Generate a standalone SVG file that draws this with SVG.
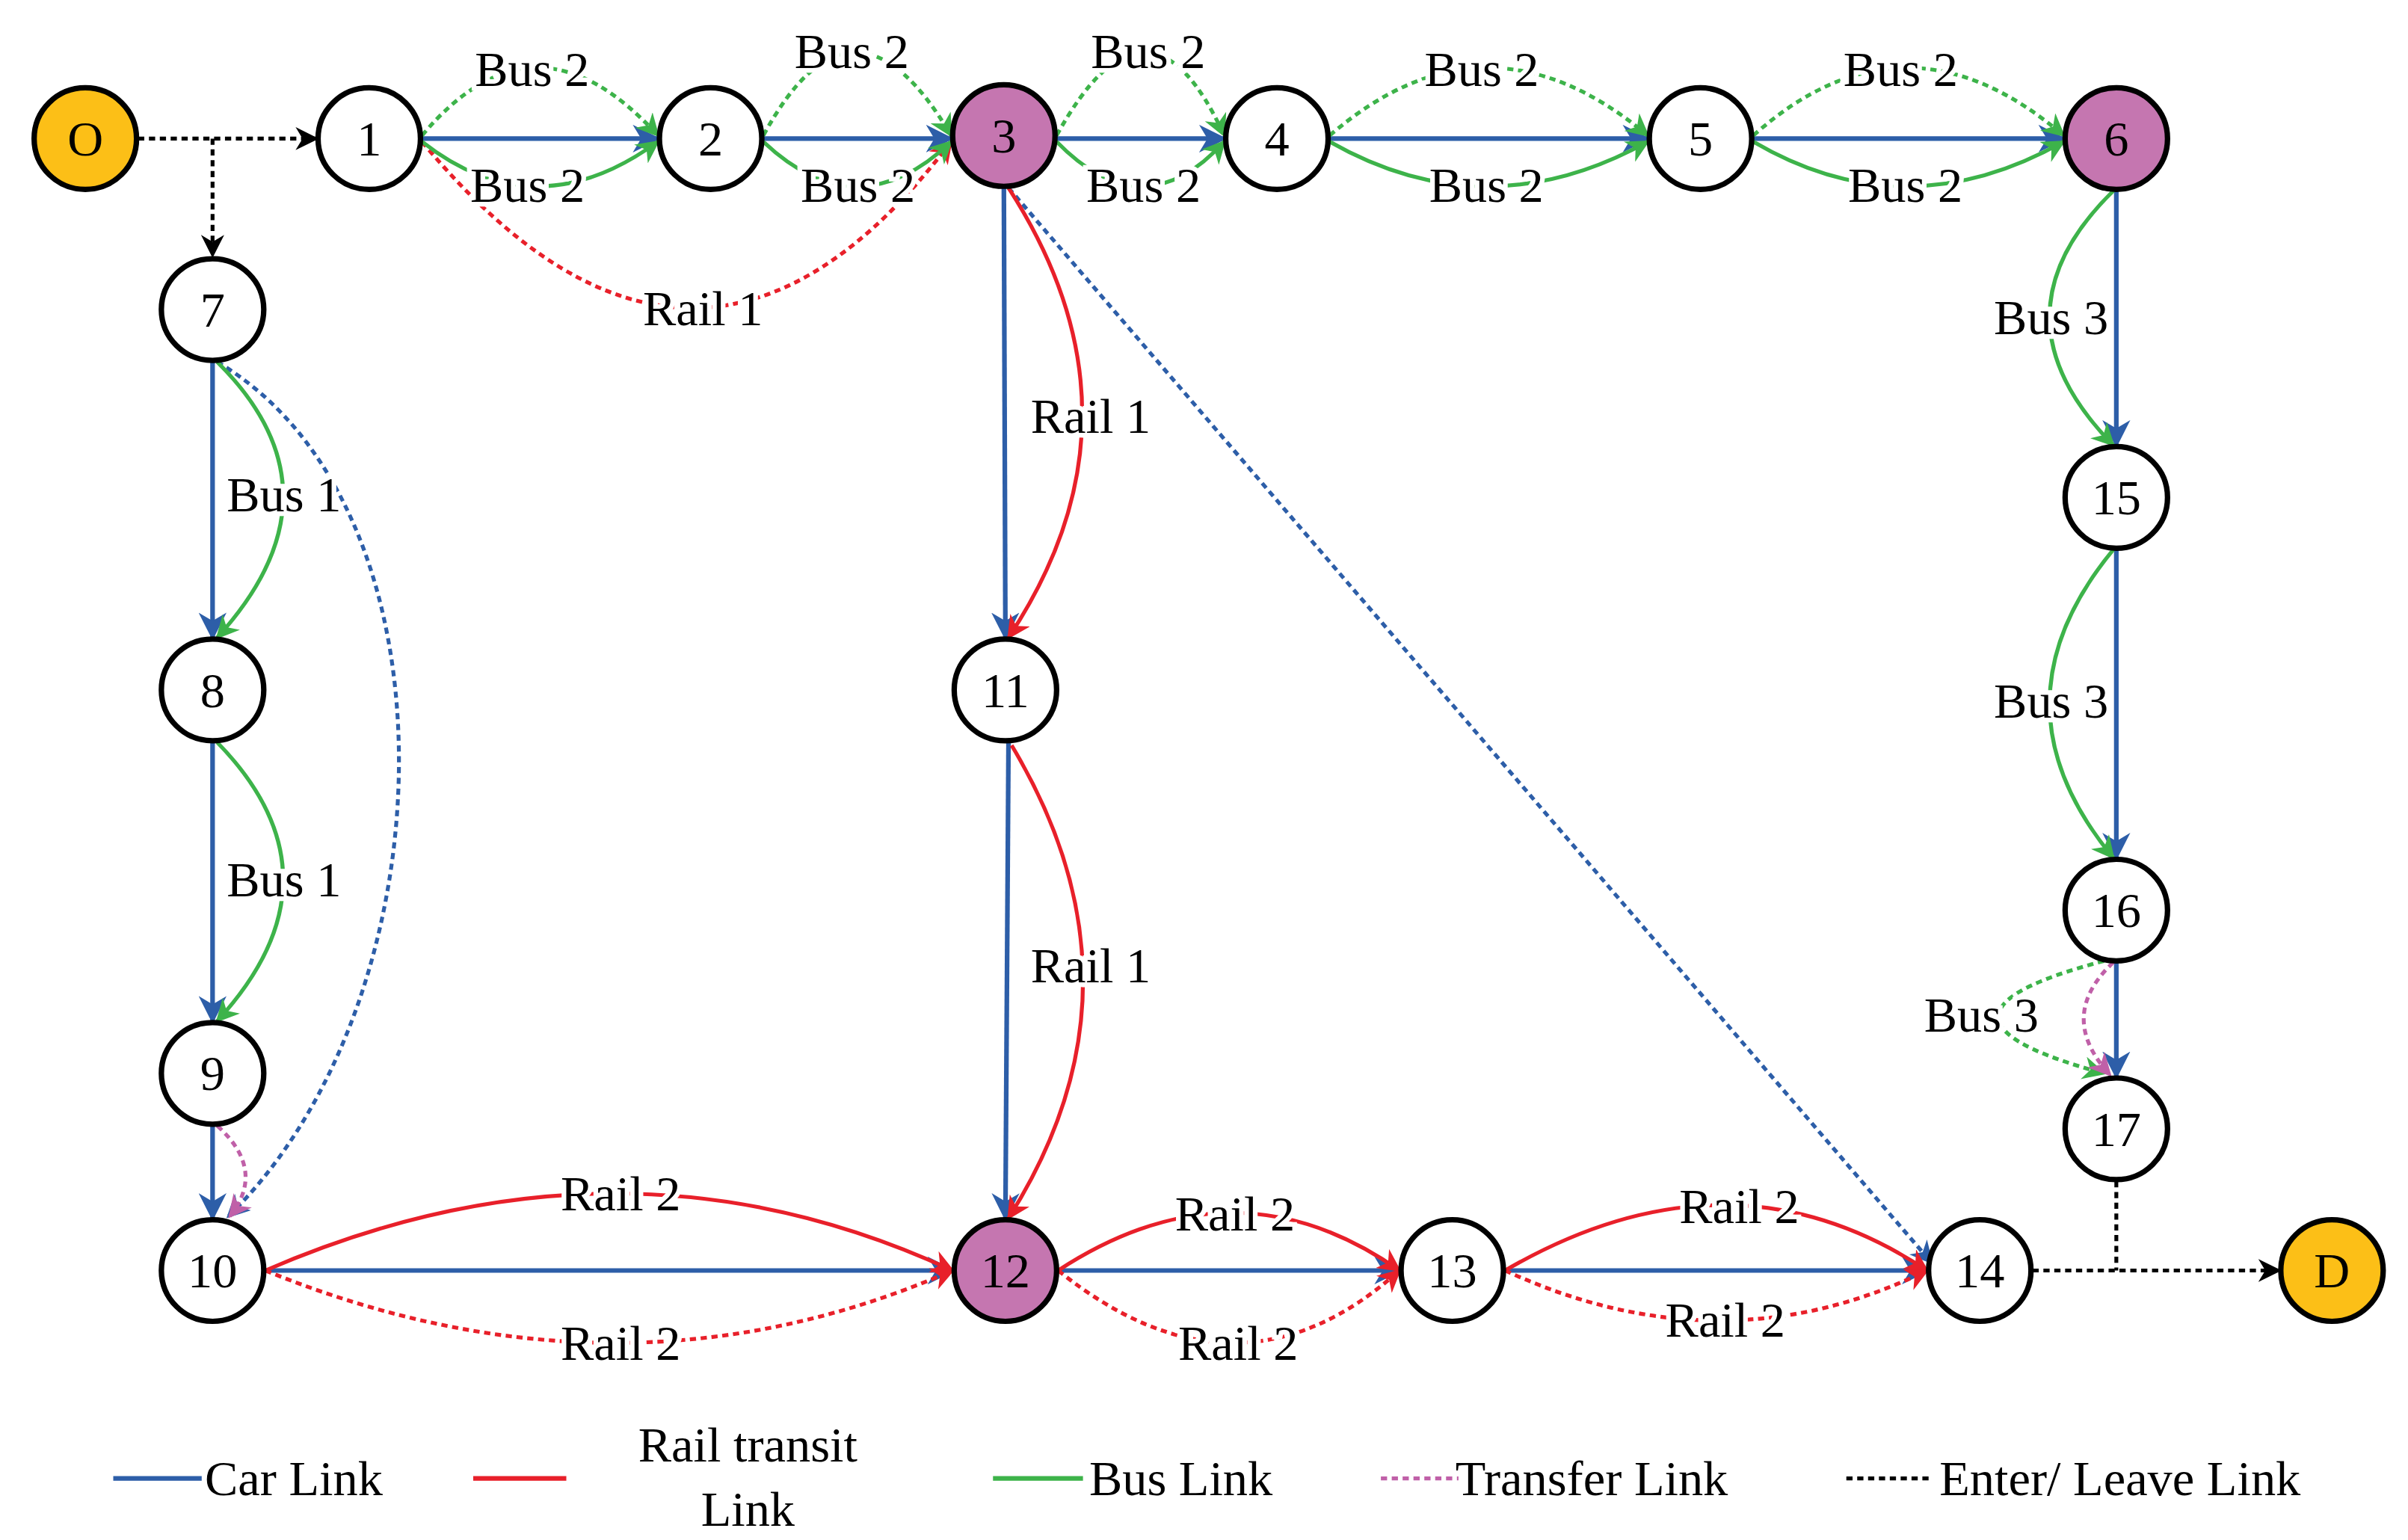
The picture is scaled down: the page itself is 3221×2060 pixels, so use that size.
<svg xmlns="http://www.w3.org/2000/svg" width="3221" height="2060" viewBox="0 0 3221 2060">
<style>
.n{stroke:#000;stroke-width:3.5;fill:#fff}
.p{fill:#c576b0}.o{fill:#fcbf17}
text{font-family:"Liberation Serif","DejaVu Serif",serif;font-size:32px;fill:#000;text-anchor:middle}
.lb{paint-order:stroke;stroke:#fff;stroke-width:6px}
.lg{text-anchor:start}
.car{stroke:#2d5ea8;stroke-width:3;fill:none;marker-end:url(#ab)}
.cd{stroke:#2d5ea8;stroke-width:2.5;fill:none;stroke-dasharray:4 3;marker-end:url(#ab)}
.rs{stroke:#e8202a;stroke-width:2.5;fill:none;marker-end:url(#ar)}
.rd{stroke:#e8202a;stroke-width:2.5;fill:none;stroke-dasharray:4 3;marker-end:url(#ar)}
.gs{stroke:#3db34a;stroke-width:2.5;fill:none;marker-end:url(#ag)}
.gd{stroke:#3db34a;stroke-width:2.5;fill:none;stroke-dasharray:4 3;marker-end:url(#ag)}
.td{stroke:#c060a8;stroke-width:2.5;fill:none;stroke-dasharray:4 3;marker-end:url(#am)}
.ed{stroke:#000;stroke-width:2.5;fill:none;stroke-dasharray:4 3}
</style>
<defs>
<marker id="ab" viewBox="0 0 10 10" refX="9" refY="5" markerWidth="6" markerHeight="6" orient="auto"><path d="M0,0L10,5L0,10L3,5z" fill="#2d5ea8"/></marker>
<marker id="ar" viewBox="0 0 10 10" refX="9" refY="5" markerWidth="6" markerHeight="6" orient="auto"><path d="M0,0L10,5L0,10L3,5z" fill="#e8202a"/></marker>
<marker id="ag" viewBox="0 0 10 10" refX="9" refY="5" markerWidth="6" markerHeight="6" orient="auto"><path d="M0,0L10,5L0,10L3,5z" fill="#3db34a"/></marker>
<marker id="am" viewBox="0 0 10 10" refX="9" refY="5" markerWidth="6" markerHeight="6" orient="auto"><path d="M0,0L10,5L0,10L3,5z" fill="#c060a8"/></marker>
<marker id="ak" viewBox="0 0 10 10" refX="9" refY="5" markerWidth="6" markerHeight="6" orient="auto"><path d="M0,0L10,5L0,10L3,5z" fill="#000"/></marker>
</defs>
<rect width="3221" height="2060" fill="#fff"/>
<g transform="scale(2.0754,2.06)">
<g id="connectors">
<path class="ed" d="M89,90H204" marker-end="url(#ak)"/>
<path class="ed" d="M137,90V166" marker-end="url(#ak)"/>
<path class="ed" d="M1310,825H1469" marker-end="url(#ak)"/>
<path class="ed" d="M1364,767V825"/>
<path class="car" d="M272,90H424"/>
<path class="car" d="M492,90H613"/>
<path class="car" d="M681,90H789"/>
<path class="car" d="M857,90H1062"/>
<path class="car" d="M1130,90H1330"/>
<path class="car" d="M1364,124V289"/>
<path class="car" d="M1364,357V557"/>
<path class="car" d="M1364,625V699"/>
<path class="car" d="M137,235V414"/>
<path class="car" d="M137,482V663"/>
<path class="car" d="M137,731V791"/>
<path class="car" d="M647,122L648,414"/>
<path class="car" d="M650,482L648,791"/>
<path class="car" d="M171,825H614"/>
<path class="car" d="M682,825H902"/>
<path class="car" d="M970,825H1242"/>
<path class="cd" d="M650,122L1245,820"/>
<path class="cd" d="M140,235C300,330 290,650 147,790"/>
<path class="rd" d="M272,92Q450,308 613,92"/>
<path class="rs" d="M650,122Q745,270 650,414"/>
<path class="rs" d="M652,484Q745,640 650,791"/>
<path class="rs" d="M171,825Q400,725 614,825"/>
<path class="rd" d="M171,825Q400,919 614,825"/>
<path class="rs" d="M682,825Q796,750 902,825"/>
<path class="rd" d="M682,825Q798,919 902,825"/>
<path class="rs" d="M970,825Q1115,740 1242,825"/>
<path class="rd" d="M970,825Q1110,890 1242,825"/>
<path class="gd" d="M272,88Q345,0 424,88"/>
<path class="gs" d="M272,92Q345,150 424,92"/>
<path class="gd" d="M492,88Q550,-20 613,88"/>
<path class="gs" d="M492,92Q553,150 613,92"/>
<path class="gd" d="M681,88Q740,-20 789,88"/>
<path class="gs" d="M681,92Q737,150 789,92"/>
<path class="gd" d="M857,88Q958,0 1062,88"/>
<path class="gs" d="M857,92Q958,150 1062,92"/>
<path class="gd" d="M1130,88Q1228,0 1330,88"/>
<path class="gs" d="M1130,92Q1228,150 1330,92"/>
<path class="gs" d="M1362,124Q1280,205 1362,289"/>
<path class="gs" d="M1362,357Q1280,457 1362,557"/>
<path class="gd" d="M1356,624Q1220,660 1356,697"/>
<path class="td" d="M1362,625Q1325,660 1360,698"/>
<path class="gs" d="M140,235Q225,320 140,414"/>
<path class="gs" d="M140,482Q225,570 140,663"/>
<path class="td" d="M140,731Q172,760 148,790"/>
</g>
<g id="labels">
<text class="lb" x="343" y="56">Bus 2</text>
<text class="lb" x="340" y="131">Bus 2</text>
<text class="lb" x="549" y="44">Bus 2</text>
<text class="lb" x="553" y="131">Bus 2</text>
<text class="lb" x="740" y="44">Bus 2</text>
<text class="lb" x="737" y="131">Bus 2</text>
<text class="lb" x="955" y="56">Bus 2</text>
<text class="lb" x="958" y="131">Bus 2</text>
<text class="lb" x="1225" y="56">Bus 2</text>
<text class="lb" x="1228" y="131">Bus 2</text>
<text class="lb" x="453" y="211">Rail 1</text>
<text class="lb" x="703" y="281">Rail 1</text>
<text class="lb" x="703" y="638">Rail 1</text>
<text class="lb" x="400" y="786">Rail 2</text>
<text class="lb" x="400" y="883">Rail 2</text>
<text class="lb" x="796" y="799">Rail 2</text>
<text class="lb" x="798" y="883">Rail 2</text>
<text class="lb" x="1121" y="794">Rail 2</text>
<text class="lb" x="1112" y="868">Rail 2</text>
<text class="lb" x="1322" y="217">Bus 3</text>
<text class="lb" x="1322" y="466">Bus 3</text>
<text class="lb" x="1277" y="670">Bus 3</text>
<text class="lb" x="183" y="332">Bus 1</text>
<text class="lb" x="183" y="582">Bus 1</text>
</g>
<g id="nO"><circle class="n o" cx="55" cy="90" r="33"/><text x="55" y="101">O</text></g>
<g id="n1"><circle class="n" cx="238" cy="90" r="33"/><text x="238" y="101">1</text></g>
<g id="n2"><circle class="n" cx="458" cy="90" r="33"/><text x="458" y="101">2</text></g>
<g id="n3"><circle class="n p" cx="647" cy="88" r="33"/><text x="647" y="99">3</text></g>
<g id="n4"><circle class="n" cx="823" cy="90" r="33"/><text x="823" y="101">4</text></g>
<g id="n5"><circle class="n" cx="1096" cy="90" r="33"/><text x="1096" y="101">5</text></g>
<g id="n6"><circle class="n p" cx="1364" cy="90" r="33"/><text x="1364" y="101">6</text></g>
<g id="n7"><circle class="n" cx="137" cy="201" r="33"/><text x="137" y="212">7</text></g>
<g id="n8"><circle class="n" cx="137" cy="448" r="33"/><text x="137" y="459">8</text></g>
<g id="n9"><circle class="n" cx="137" cy="697" r="33"/><text x="137" y="708">9</text></g>
<g id="n10"><circle class="n" cx="137" cy="825" r="33"/><text x="137" y="836">10</text></g>
<g id="n11"><circle class="n" cx="648" cy="448" r="33"/><text x="648" y="459">11</text></g>
<g id="n12"><circle class="n p" cx="648" cy="825" r="33"/><text x="648" y="836">12</text></g>
<g id="n13"><circle class="n" cx="936" cy="825" r="33"/><text x="936" y="836">13</text></g>
<g id="n14"><circle class="n" cx="1276" cy="825" r="33"/><text x="1276" y="836">14</text></g>
<g id="n15"><circle class="n" cx="1364" cy="323" r="33"/><text x="1364" y="334">15</text></g>
<g id="n16"><circle class="n" cx="1364" cy="591" r="33"/><text x="1364" y="602">16</text></g>
<g id="n17"><circle class="n" cx="1364" cy="733" r="33"/><text x="1364" y="744">17</text></g>
<g id="nD"><circle class="n o" cx="1503" cy="825" r="33"/><text x="1503" y="836">D</text></g>
<g id="legend">
<path d="M73,960H130" stroke="#2d5ea8" stroke-width="3"/>
<text class="lg" x="132" y="971">Car Link</text>
<path d="M305,960H365" stroke="#e8202a" stroke-width="3"/>
<text x="482" y="949">Rail transit</text>
<text x="482" y="991">Link</text>
<path d="M640,960H698" stroke="#3db34a" stroke-width="3"/>
<text class="lg" x="702" y="971">Bus Link</text>
<path d="M890,960H940" stroke="#c060a8" stroke-width="2.5" stroke-dasharray="4 3"/>
<text class="lg" x="938" y="971">Transfer Link</text>
<path d="M1190,960H1245" stroke="#000" stroke-width="2.5" stroke-dasharray="4 3"/>
<text class="lg" x="1250" y="971">Enter/ Leave Link</text>
</g>
</g>
</svg>
